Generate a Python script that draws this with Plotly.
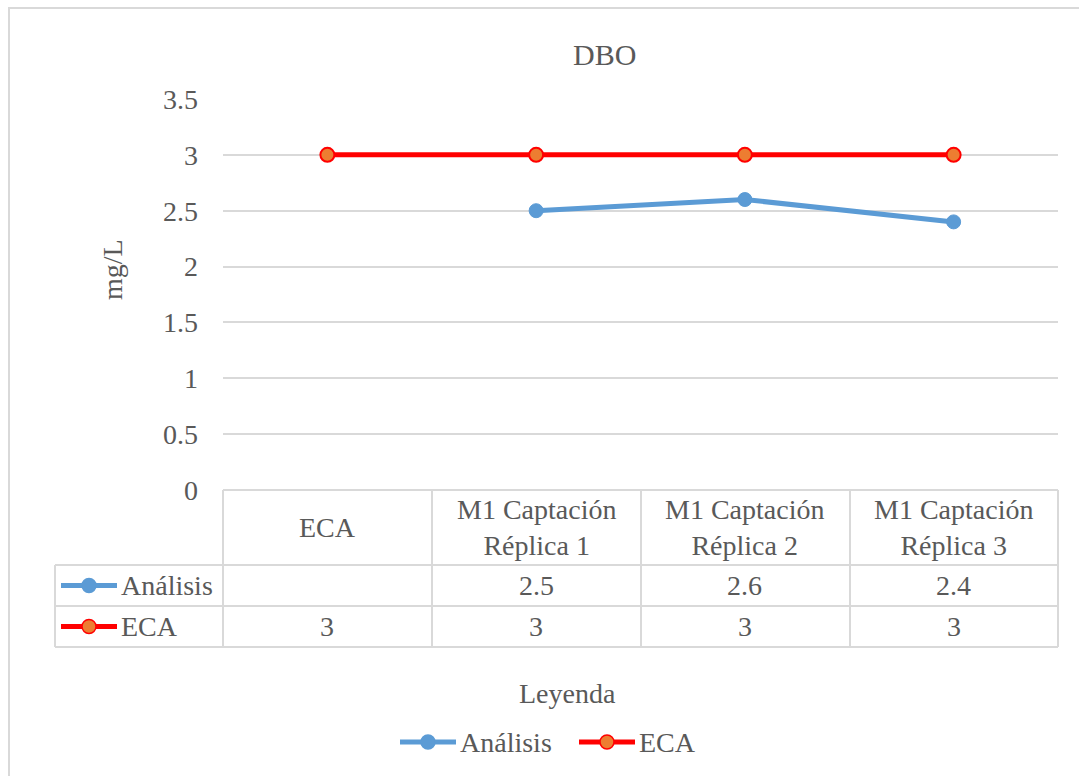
import plotly.graph_objects as go

# Data
categories = ["ECA", "M1 Captación<br>Réplica 1", "M1 Captación<br>Réplica 2", "M1 Captación<br>Réplica 3"]
analisis = [None, 2.5, 2.6, 2.4]
eca = [3, 3, 3, 3]
y_ticks = [0, 0.5, 1, 1.5, 2, 2.5, 3, 3.5]
y_tick_labels = ["0", "0.5", "1", "1.5", "2", "2.5", "3", "3.5"]

W, H = 1079, 776
FONT = "Liberation Serif"
TXT = "#595959"
GRID = "#d9d9d9"
BLUE = "#5b9bd5"
RED = "#ff0000"
ORANGE = "#ed7d31"

# Plot area in pixels
PL, PR, PT, PB = 223, 1058, 99, 490


def px(x):
    return x / W


def py(y):
    return 1 - y / H


xs = list(range(len(categories)))

fig = go.Figure()
fig.add_trace(go.Scatter(
    x=xs, y=analisis, name="Análisis", mode="lines+markers",
    line=dict(color=BLUE, width=5),
    marker=dict(color=BLUE, size=14, line=dict(color=BLUE, width=1)),
    connectgaps=False,
))
fig.add_trace(go.Scatter(
    x=xs, y=eca, name="ECA", mode="lines+markers",
    line=dict(color=RED, width=5),
    marker=dict(color=ORANGE, size=14, line=dict(color=RED, width=2)),
))

shapes = []
annotations = []

# Outer chart frame
shapes.append(dict(type="rect", xref="paper", yref="paper",
                   x0=px(9), y0=-0.1, x1=1.1, y1=py(8),
                   line=dict(color=GRID, width=2), layer="below"))

# Data table grid
row_y = [PB, 565, 606, 647]
col_x = [PL, 432, 641, 850, PR]
TL = 55
for i, y in enumerate(row_y):
    x0 = PL if i == 0 else TL
    shapes.append(dict(type="line", xref="paper", yref="paper",
                       x0=px(x0), x1=px(PR), y0=py(y), y1=py(y),
                       line=dict(color=GRID, width=2)))
for x in col_x:
    shapes.append(dict(type="line", xref="paper", yref="paper",
                       x0=px(x), x1=px(x), y0=py(PB), y1=py(647),
                       line=dict(color=GRID, width=2)))
shapes.append(dict(type="line", xref="paper", yref="paper",
                   x0=px(TL), x1=px(TL), y0=py(565), y1=py(647),
                   line=dict(color=GRID, width=2)))


def key(x_left, yc, lc, mc, mlc):
    """Line-with-marker legend key, 56 px wide."""
    shapes.append(dict(type="line", xref="paper", yref="paper",
                       x0=px(x_left), x1=px(x_left + 56), y0=py(yc), y1=py(yc),
                       line=dict(color=lc, width=5)))
    shapes.append(dict(type="circle", xref="paper", yref="paper",
                       x0=px(x_left + 21), x1=px(x_left + 35), y0=py(yc - 7), y1=py(yc + 7),
                       fillcolor=mc, line=dict(color=mlc, width=1.5)))


def label(x, yc, text, anchor="left", size=28, xref="paper", angle=0):
    annotations.append(dict(x=x, xref=xref, y=py(yc), yref="paper", text=text,
                            textangle=angle, showarrow=False, xanchor=anchor, yanchor="middle",
                            font=dict(family=FONT, size=size, color=TXT)))


# Category header labels
for i, c in enumerate(categories):
    label(i, 527.5, c, anchor="center", xref="x")

# Table rows: legend key + values
rows = [("Análisis", analisis, BLUE, BLUE, BLUE, 585.5),
        ("ECA", eca, RED, ORANGE, RED, 626.5)]
for name, vals, lc, mc, mlc, yc in rows:
    key(61, yc, lc, mc, mlc)
    label(px(119), yc, name)
    for i, v in enumerate(vals):
        if v is not None:
            label(i, yc, f"{v:g}", anchor="center", xref="x")

# Title, axis titles
label(px(604), 55, "DBO", anchor="center", size=30)
label(px(112), 270, "mg/L", anchor="center", angle=-90)
label(px(567), 693, "Leyenda", anchor="center")

# Bottom legend
key(400, 742, BLUE, BLUE, BLUE)
label(px(458), 742, "Análisis")
key(579, 742, RED, ORANGE, RED)
label(px(637), 742, "ECA")

fig.update_layout(
    width=W, height=H,
    margin=dict(l=0, r=0, t=0, b=0, autoexpand=False),
    paper_bgcolor="white", plot_bgcolor="white",
    font=dict(family=FONT, size=28, color=TXT),
    showlegend=False,
    xaxis=dict(domain=[px(PL), px(PR)], range=[-0.5, len(categories) - 0.5],
               showticklabels=False, showgrid=False, zeroline=False, showline=False,
               fixedrange=True),
    yaxis=dict(domain=[py(PB), py(PT)], range=[0, 3.5],
               tickvals=y_ticks, ticktext=y_tick_labels,
               showgrid=True, gridcolor=GRID, gridwidth=2, zeroline=False, showline=False,
               ticks="", ticklabelstandoff=24,
               tickfont=dict(family=FONT, size=28, color=TXT), fixedrange=True),
    shapes=shapes,
    annotations=annotations,
)

fig.write_html("out.html")
